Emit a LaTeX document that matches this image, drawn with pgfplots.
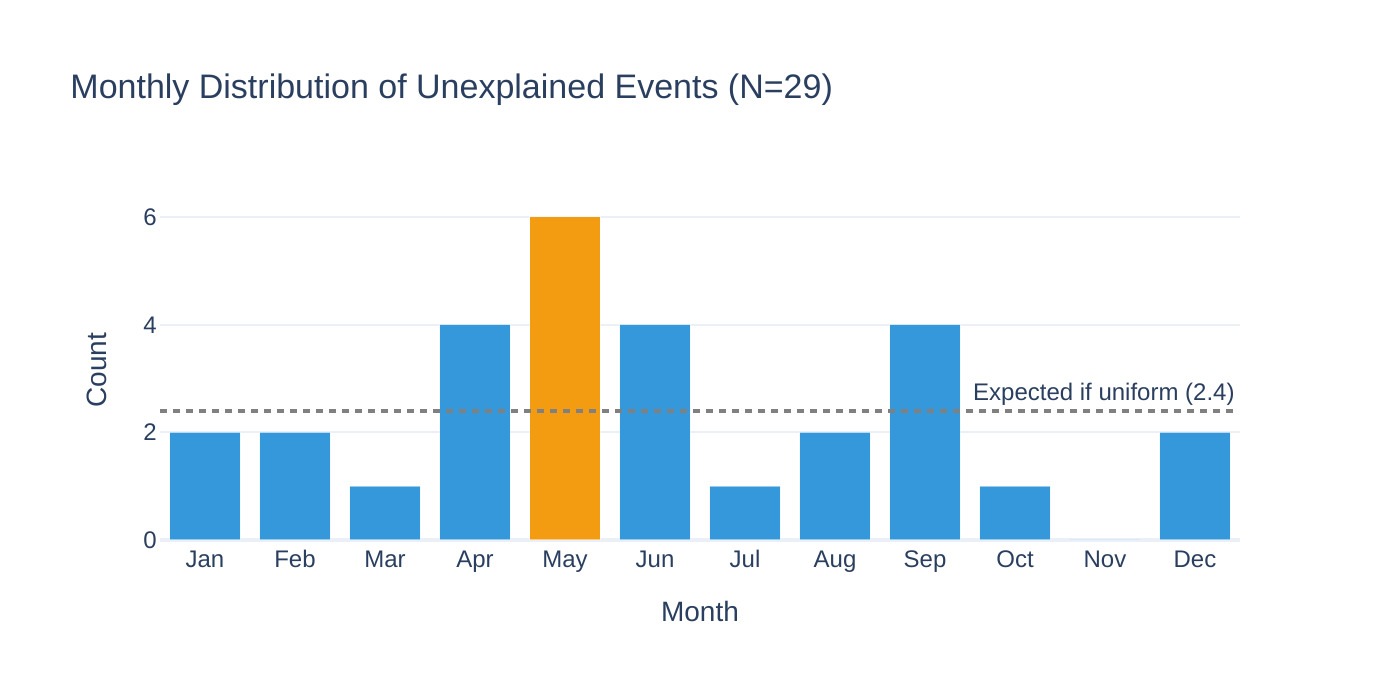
\documentclass[border=0pt]{standalone}
\usepackage{pgfplots}
\pgfplotsset{compat=1.18}
\usepackage{fontspec}
\setmainfont{Liberation Sans}

\definecolor{txt}{HTML}{2A3F5F}
\definecolor{gridc}{HTML}{EBF0F8}
\definecolor{barblue}{HTML}{3498DB}
\definecolor{barorange}{HTML}{F39C12}
\definecolor{refgrey}{HTML}{808080}

\begin{document}
\begin{tikzpicture}
\useasboundingbox (0,0) rectangle (700bp,350bp);
\begin{axis}[
  at={(80bp,80bp)}, anchor=south west,
  scale only axis, width=540bp, height=170bp,
  xmin=-0.5, xmax=11.5, ymin=0, ymax=6.3158,
  axis line style={draw=none},
  major tick length=0pt,
  xtick={0,...,11},
  xticklabels={Jan,Feb,Mar,Apr,May,Jun,Jul,Aug,Sep,Oct,Nov,Dec},
  ytick={0,2,4,6},
  ymajorgrids,
  grid style={color=gridc, line width=1bp},
  extra y ticks={0},
  extra y tick labels={},
  extra y tick style={grid style={color=gridc, line width=2bp}},
  /pgf/number format/assume math mode=true,
  ticklabel style={font=\fontsize{12bp}{14bp}\selectfont, text=txt},
  xticklabel style={anchor=base, inner sep=0pt, yshift=-14bp},
  yticklabel style={anchor=base east, inner sep=0pt, xshift=-1.5bp, yshift=-4.2bp},
  xlabel={Month},
  xlabel style={at={(axis description cs:0.5,-0.241)}, anchor=base,
    font=\fontsize{14bp}{16bp}\selectfont, text=txt, inner sep=0pt},
  ylabel={Count},
  ylabel style={at={(axis description cs:-0.0583,0.5)}, anchor=center,
    font=\fontsize{14bp}{16bp}\selectfont, text=txt, inner sep=0pt},
  title={Monthly Distribution of Unexplained Events (N=29)},
  title style={at={(axis description cs:-0.0833,1.262)}, anchor=base west,
    font=\fontsize{17bp}{20bp}\selectfont, text=txt, inner sep=0pt},
  ybar, bar width=0.78, bar shift=0pt,
  clip=false,
]
% monthly counts
\addplot[fill=barblue, draw=white, draw opacity=0.5, line width=0.5bp]
  coordinates {(0,2) (1,2) (2,1) (3,4) (5,4) (6,1) (7,2) (8,4) (9,1) (10,0) (11,2)};
% peak month highlighted
\addplot[fill=barorange, draw=white, draw opacity=0.5, line width=0.5bp]
  coordinates {(4,6)};
% uniform expectation 29/12
\addplot[sharp plot, refgrey, line width=2bp, dash pattern=on 3.5bp off 3bp]
  coordinates {(-0.5,2.4) (11.45,2.4)};
\node[anchor=base east, inner sep=0pt, text=txt, font=\fontsize{12bp}{14bp}\selectfont,
  xshift=-2.5bp, yshift=5bp] at (axis cs:11.5,2.4) {Expected if uniform (2.4)};
\end{axis}
\end{tikzpicture}
\end{document}
